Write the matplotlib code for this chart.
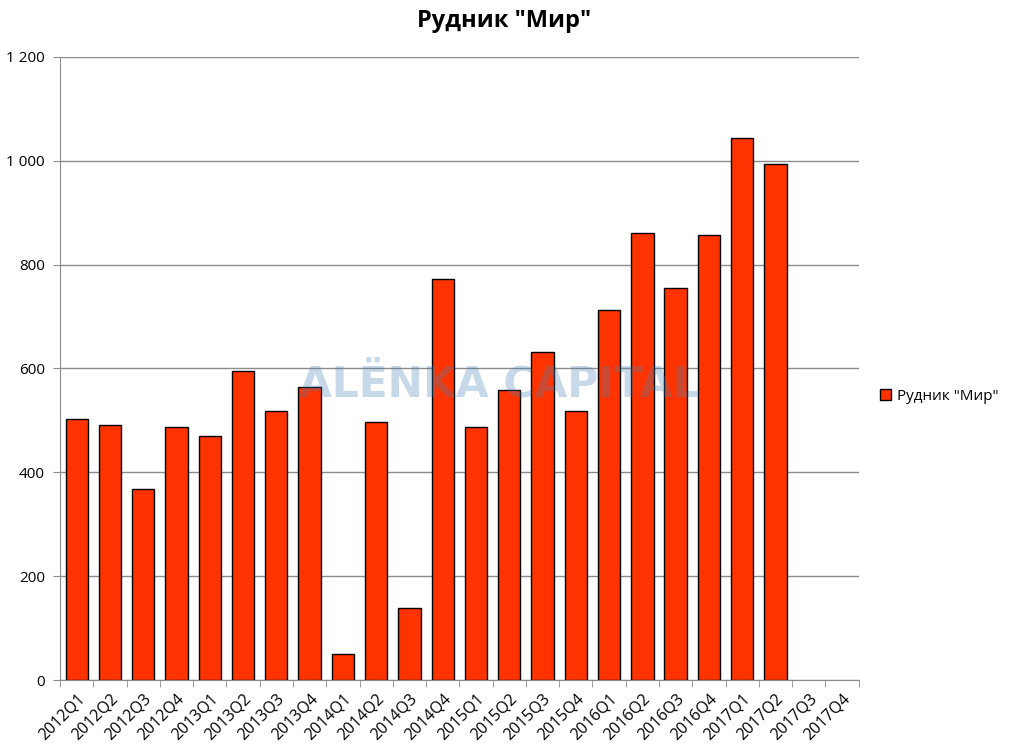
import matplotlib
matplotlib.use("Agg")
import matplotlib.pyplot as plt
import matplotlib.ticker as mticker
import numpy as np

plt.rcParams['font.family'] = ['Open Sans', 'DejaVu Sans']

quarters = [f"{y}Q{q}" for y in range(2012, 2018) for q in range(1, 5)]
values = [503, 491, 368, 487, 470, 595, 518, 564, 50, 497, 139, 772,
          487, 559, 632, 518, 713, 861, 755, 857, 1044, 994, np.nan, np.nan]
series_name = 'Рудник "Мир"'

fig = plt.figure(figsize=(10.09, 7.53), dpi=100)
ax = fig.add_axes([0.0595, 0.0969, 0.7915, 0.8275])

x = np.arange(len(quarters))
ax.bar(x, values, width=0.67, color='#ff3300', edgecolor='black',
       linewidth=1.0, label=series_name, zorder=3)

ax.set_xlim(-0.5, len(quarters) - 0.5)
ax.set_ylim(0, 1200)
ax.yaxis.set_major_locator(mticker.MultipleLocator(200))
ax.yaxis.set_major_formatter(mticker.FuncFormatter(
    lambda v, p: f"{int(v):,}".replace(",", " ")))
ax.grid(axis='y', color='#8c8c8c', linewidth=1.0, zorder=0)

ax.set_xticks(x)
ax.set_xticklabels(quarters, rotation=45, ha='right', rotation_mode='anchor',
                   fontsize=11.5)
ax.set_xticks(np.arange(len(quarters) + 1) - 0.5, minor=True)
ax.tick_params(axis='x', which='major', length=0, pad=8)
ax.tick_params(axis='x', which='minor', length=5, color='#8c8c8c')
ax.tick_params(axis='y', length=5, color='#8c8c8c', labelsize=11, pad=6)

for side in ['top', 'right']:
    ax.spines[side].set_visible(False)
for side in ['left', 'bottom']:
    ax.spines[side].set_color('#8c8c8c')

fig.text(0.5, 0.972, series_name, ha='center', va='center',
         fontsize=17, fontweight='bold')

ax.text(0.55, 0.475, 'ALЁNKA CAPITAL', transform=ax.transAxes,
        ha='center', va='center', fontsize=30.5, fontweight='bold',
        color='#4682b4', alpha=0.3, zorder=5, family='DejaVu Sans')

ax.legend(loc='center left', bbox_to_anchor=(1.01, 0.455), frameon=False,
          fontsize=11, handlelength=0.7, handleheight=0.7, handletextpad=0.4)

fig.savefig('out.png', dpi=100)
